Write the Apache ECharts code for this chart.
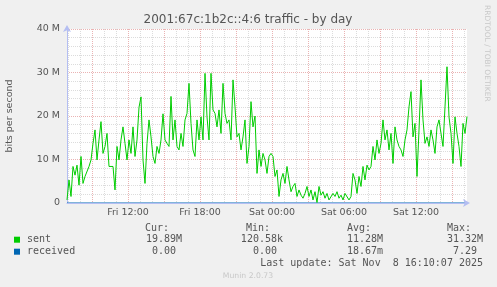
<!DOCTYPE html>
<html><head><meta charset="utf-8">
<script src="https://cdn.jsdelivr.net/npm/echarts@6/dist/echarts.min.js"></script>
<style>html,body{margin:0;padding:0;background:#f0f0f0;}#c{width:497px;height:287px;}</style>
</head><body><div id="c"></div>
<script>
// time base: Fri 06:55, one sample every 10 minutes (hours counted from Fri 00:00)
const startHour = 6 + 55 / 60;
const stepMinutes = 10;

// sent, Mbit/s
const sentMbps = [
  0.7,5.3,1.5,8.4,6.4,8.7,4.1,10.7,4.5,6.1,
  6.1,8.4,9.9,13.7,16.8,9.9,14.5,18.7,11.4,13.0,
  16.0,8.4,8.0,8.4,3.0,13.0,9.9,14.5,17.5,13.7,
  9.9,14.5,11.4,17.5,10.7,14.5,22.0,24.4,9.9,4.5,
  13.7,19.1,15.2,10.7,9.1,13.0,11.4,14.5,20.5,14.5,
  13.7,13.0,24.5,14.5,19.1,13.0,12.2,16.0,13.0,19.1,
  20.6,27.5,18.3,12.2,10.7,19.1,14.5,19.8,14.5,29.8,
  19.8,14.5,29.8,21.4,20.6,17.5,21.4,16.0,27.5,20.6,
  18.3,19.1,14.5,28.3,22.1,15.2,16.0,12.2,15.2,19.1,
  9.1,13.0,23.3,17.5,20.0,6.8,12.2,8.4,11.4,9.9,
  6.8,10.7,11.4,10.7,6.1,7.6,1.5,5.3,6.8,4.5,
  8.4,5.3,2.6,3.8,4.5,1.5,3.0,1.8,1.1,2.2,
  3.8,1.5,3.0,0.7,2.6,0.12,3.8,1.8,2.6,1.1,
  2.2,0.7,0.3,2.2,1.5,2.6,1.1,1.8,0.7,2.2,
  2.6,0.7,1.5,6.8,5.3,2.2,6.1,3.8,8.4,5.3,
  8.7,7.6,8.4,13.0,9.9,14.5,11.4,13.7,19.1,14.5,
  16.8,12.2,16.0,9.1,17.5,14.5,13.0,12.2,10.7,14.5,
  16.8,22.1,25.6,15.2,18.3,6.1,16.8,28.3,19.1,13.7,
  15.2,13.0,16.8,14.5,11.4,17.5,19.1,16.0,13.0,22.1,
  31.32,19.8,16.0,9.1,19.8,16.0,13.0,8.4,18.3,16.0,
  19.89
];

// received, Mbit/s
const receivedMbps = [
  0,0,0,0,0,0,0,0,0,0, 0,0,0,0,0,0,0,0,0,0,
  0,0,0,0,0,0,0,0,0,0, 0,0,0,0,0,0,0,0,0,0,
  0,0,0,0,0,0,0,0,0,0, 0,0,0,0,0,0,0,0,0,0,
  0,0,0,0,0,0,0,0,0,0, 0,0,0,0,0,0,0,0,0,0,
  0,0,0,0,0,0,0,0,0,0, 0,0,0,0,0,0,0,0,0,0,
  0,0,0,0,0,0,0,0,0,0, 0,0,0,0,0,0,0,0,0,0,
  0,0,0,0,0,0,0,0,0,0, 0,0,0,0,0,0,0,0,0,0,
  0,0,0,0,0,0,0,0,0,0, 0,0,0,0,0,0,0,0,0,0,
  0,0,0,0,0,0,0,0,0,0, 0,0,0,0,0,0,0,0,0,0,
  0,0,0,0,0,0,0,0,0,0, 0,0,0,0,0,0,0,0,0,0,
  0
];

const xLabelHours = [12, 18, 24, 30, 36];
const xLabelTexts = ['Fri 12:00', 'Fri 18:00', 'Sat 00:00', 'Sat 06:00', 'Sat 12:00'];
const majorGridHours = [9, 12, 15, 18, 21, 24, 27, 30, 33, 36, 39];
const minorGridHours = [7, 8, 10, 11, 13, 14, 16, 17, 19, 20, 22, 23, 25, 26, 28, 29, 31, 32, 34, 35, 37, 38, 40];
const yMax = 40, yStep = 10;

const title = '2001:67c:1b2c::4:6 traffic - by day';
const yName = 'bits per second';
const seriesNames = ['sent', 'received'];
const seriesColors = ['#00cc00', '#0066b3'];
const statHeaders = ['Cur:', 'Min:', 'Avg:', 'Max:'];
const sentStats = ['19.89M', '120.58k', '11.28M', '31.32M'];
const receivedStats = ['0.00', '0.00', '18.67m', '7.29'];
const lastUpdate = 'Last update: Sat Nov  8 16:10:07 2025';
const footer = 'Munin 2.0.73';
const sideText = 'RRDTOOL / TOBI OETIKER';

const times = sentMbps.map((_, i) => startHour + i * stepMinutes / 60);
const xMin = times[0], xMax = times[times.length - 1];

const SANS = '"DejaVu Sans", sans-serif';
const MONO = '"DejaVu Sans Mono", monospace';
const TXT = '#555555';
const AXIS = '#b4bef2';
const GRID_MINOR = '#dcdcdc';
const GRID_MAJOR = '#eab3b3';

function txt(text, x, y, opts) {
  return Object.assign({
    type: 'text', silent: true,
    style: Object.assign({text: text, x: x, y: y, fill: TXT, font: '10px ' + MONO,
      align: 'left', verticalAlign: 'middle', textAlign: 'left', textVerticalAlign: 'middle'}, opts && opts.style || {})
  }, opts && opts.el || {});
}

const statCols = [145, 246, 347, 447];
const statRight = [182, 283, 383, 483];
const graphics = [];
graphics.push(txt(title, 248, 19.5, {style: {font: '12px ' + SANS, align: 'center', textAlign: 'center'}}));
graphics.push(txt(yName, 0, 0, {style: {font: '9.5px ' + SANS, align: 'center', textAlign: 'center'}, el: {rotation: Math.PI / 2, x: 10, y: 116}}));
graphics.push(txt(sideText, 0, 0, {style: {font: '7.5px ' + SANS, fill: '#c8c8c8'}, el: {rotation: -Math.PI / 2, x: 487, y: 5}}));
statHeaders.forEach((h, i) => graphics.push(txt(h, statCols[i], 228)));
[[sentStats, 239.7], [receivedStats, 251.7]].forEach(([vals, y], r) => {
  graphics.push({type: 'rect', silent: true, shape: {x: 14, y: y - 3, width: 6, height: 6}, style: {fill: seriesColors[r]}});
  graphics.push(txt(seriesNames[r], 27, y));
  vals.forEach((v, i) => {
    const unitPad = /[0-9]$/.test(v) ? 6 : 0;
    graphics.push(txt(v, statRight[i] - unitPad, y, {style: {align: 'right', textAlign: 'right'}}));
  });
});
graphics.push(txt(lastUpdate, 483, 263.3, {style: {align: 'right', textAlign: 'right'}}));
graphics.push(txt(footer, 248, 276, {style: {font: '7.7px ' + SANS, fill: '#c8c8c8', align: 'center', textAlign: 'center'}}));

const dotted = (c) => ({show: true, lineStyle: {color: c, width: 1, type: [1, 1]}});
const hiddenX = {type: 'value', position: 'bottom', offset: 0, min: xMin, max: xMax, axisLine: {show: false}, axisLabel: {show: false}};

const option = {
  backgroundColor: '#f0f0f0',
  animation: false,
  grid: {left: 67, top: 29, width: 400, height: 174, show: true, backgroundColor: '#ffffff', borderWidth: 0},
  xAxis: [
    Object.assign({}, hiddenX, {axisTick: {show: false, customValues: minorGridHours}, splitLine: dotted(GRID_MINOR)}),
    Object.assign({}, hiddenX, {axisTick: {show: false, customValues: majorGridHours}, splitLine: dotted(GRID_MAJOR)}),
    {type: 'value', position: 'bottom', offset: 0, min: xMin, max: xMax, z: 10,
      axisLine: {show: true, onZero: false, lineStyle: {color: AXIS, width: 1}, symbol: ['none', 'arrow'], symbolSize: [6, 7], symbolOffset: [0, 3]},
      axisTick: {show: false, customValues: xLabelHours},
      axisLabel: {show: true, customValues: xLabelHours, margin: 5, color: TXT, fontFamily: SANS, fontSize: 9.5,
        formatter: v => xLabelTexts[xLabelHours.indexOf(v)] || ''},
      splitLine: {show: false}}
  ],
  yAxis: [{
    type: 'value', min: 0, max: yMax, interval: yStep,
    axisLine: {show: true, lineStyle: {color: AXIS, width: 1}, symbol: ['none', 'arrow'], symbolSize: [6, 7], symbolOffset: [0, 4]},
    axisTick: {show: false},
    axisLabel: {margin: 7, color: TXT, fontFamily: SANS, fontSize: 9.5, formatter: v => v === 0 ? '0' : v + ' M'},
    splitLine: dotted(GRID_MAJOR),
    minorTick: {show: false, splitNumber: 5},
    minorSplitLine: dotted(GRID_MINOR)
  }],
  series: [
    {name: seriesNames[1], type: 'line', xAxisIndex: 0, yAxisIndex: 0, z: 2, symbol: 'none', showSymbol: false,
      data: times.map((t, i) => [t, receivedMbps[i]]), lineStyle: {color: seriesColors[1], width: 1}, itemStyle: {color: seriesColors[1]}},
    {name: seriesNames[0], type: 'line', xAxisIndex: 0, yAxisIndex: 0, z: 3, symbol: 'none', showSymbol: false,
      data: times.map((t, i) => [t, sentMbps[i]]), lineStyle: {color: seriesColors[0], width: 1}, itemStyle: {color: seriesColors[0]}}
  ],
  graphic: graphics
};

const chart = echarts.init(document.getElementById('c'), null, {renderer: 'canvas', width: 497, height: 287});
chart.setOption(option);
</script>
</body></html>
